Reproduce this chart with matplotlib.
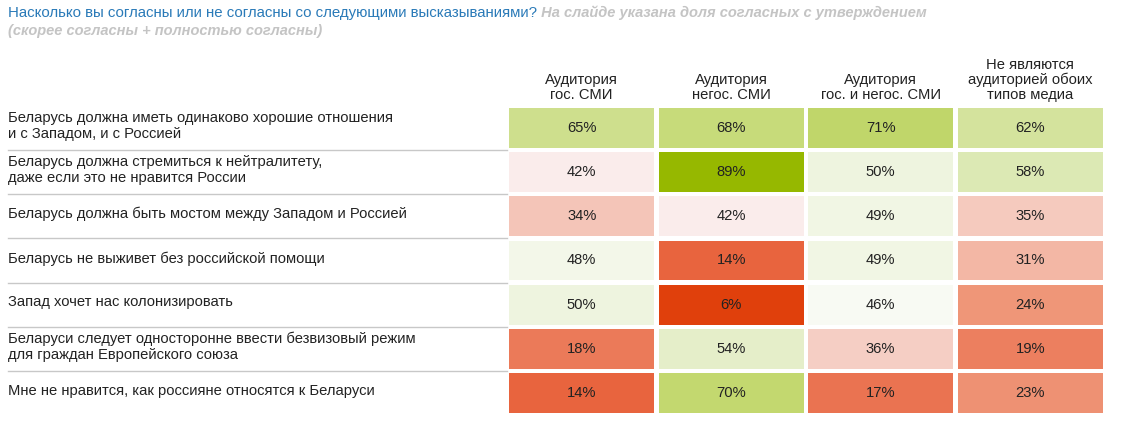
import matplotlib.pyplot as plt
import numpy as np
from matplotlib.colors import LinearSegmentedColormap, Normalize
from matplotlib.patches import Rectangle

plt.rcParams['font.family'] = ['Liberation Sans', 'DejaVu Sans']

# Données
statements = [
    "Беларусь должна иметь одинаково хорошие отношения\nи с Западом, и с Россией",
    "Беларусь должна стремиться к нейтралитету,\nдаже если это не нравится России",
    "Беларусь должна быть мостом между Западом и Россией",
    "Беларусь не выживет без российской помощи",
    "Запад хочет нас колонизировать",
    "Беларуси следует односторонне ввести безвизовый режим\nдля граждан Европейского союза",
    "Мне не нравится, как россияне относятся к Беларуси",
]
groups = [
    "Аудитория\nгос. СМИ",
    "Аудитория\nнегос. СМИ",
    "Аудитория\nгос. и негос. СМИ",
    "Не являются\nаудиторией обоих\nтипов медиа",
]
gos = [65, 42, 34, 48, 50, 18, 14]
negos = [68, 89, 42, 14, 6, 54, 70]
both = [71, 50, 49, 49, 46, 36, 17]
none_ = [62, 58, 35, 31, 24, 19, 23]

title_main = "Насколько вы согласны или не согласны со следующими высказываниями?"
title_note = "На слайде указана доля согласных с утверждением"
title_note2 = "(скорее согласны + полностью согласны)"

values = np.array([gos, negos, both, none_]).T

# Palette rouge -> blanc -> vert
nodes = [6, 14, 19, 24, 34, 42, 46, 50, 58, 70, 89]
cols = ["#e0400c", "#e8653f", "#ec7f5f", "#ef9679", "#f4c5b8", "#faeceb",
        "#f8faf3", "#eef4df", "#dce9b4", "#c3d870", "#96b800"]
vmin, vmax = nodes[0], nodes[-1]
cmap = LinearSegmentedColormap.from_list(
    "rg", [((n - vmin) / (vmax - vmin), c) for n, c in zip(nodes, cols)])
norm = Normalize(vmin, vmax)

W, H = 1123, 434
fs = 10.6
fig = plt.figure(figsize=(W / 100, H / 100), dpi=100)
ax = fig.add_axes([507 / W, 1 - 415 / H, 598 / W, 309 / H])
ax.set_xlim(0, 4)
ax.set_ylim(7, 0)
ax.axis("off")

gx, gy = 0.015, 0.05
for i in range(values.shape[0]):
    for j in range(values.shape[1]):
        v = values[i, j]
        ax.add_patch(Rectangle((j + gx, i + gy), 1 - 2 * gx, 1 - 2 * gy,
                               facecolor=cmap(norm(v)), edgecolor="none"))
        ax.text(j + 0.5, i + 0.5, f"{v}%", ha="center", va="center",
                fontsize=fs, color="#222222")

# En-têtes de colonnes
for j, g in enumerate(groups):
    ax.text(j + 0.5, -0.08, g, ha="center", va="bottom", fontsize=fs,
            color="#222222", linespacing=1.1)

# Libellés des lignes
x_lab = (8 - 507) / 598 * 4
for i, s in enumerate(statements):
    ax.text(x_lab, i + 0.45, s, ha="left", va="center", fontsize=fs,
            color="#222222", linespacing=1.15)
for i in range(1, 7):
    ax.plot([x_lab, 0], [i, i], color="#c8c8c8", lw=1, clip_on=False)

# Titre
t1 = fig.text(8 / W, 1 - 17 / H, title_main, ha="left", va="baseline",
              fontsize=10.85, color="#2a7ab8")
ax.annotate(" " + title_note, xy=(1, 0), xycoords=t1, ha="left",
            va="bottom", fontsize=10.5, color="#c4c4c4",
            fontweight="bold", fontstyle="italic", annotation_clip=False)
fig.text(8 / W, 1 - 35 / H, title_note2, ha="left", va="baseline",
         fontsize=10.5, color="#c4c4c4", fontweight="bold",
         fontstyle="italic")

fig.savefig("out.png", dpi=100)
